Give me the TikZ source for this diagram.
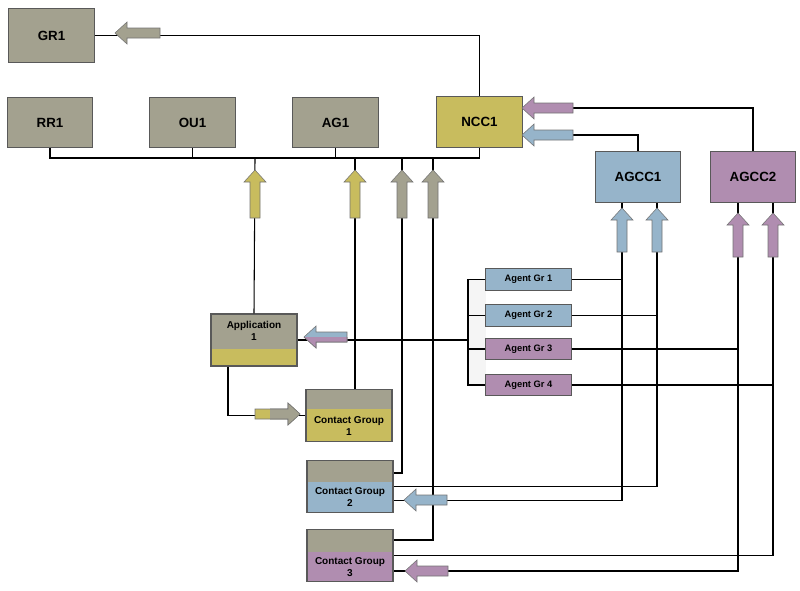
\documentclass[tikz,border=0pt]{standalone}
\usepackage{fontspec}
\setmainfont{Liberation Sans}
\usetikzlibrary{calc}
\definecolor{boxgrey}{HTML}{A3A18F}
\definecolor{khaki}{HTML}{C8BC5E}
\definecolor{agblue}{HTML}{96B4CA}
\definecolor{agpurple}{HTML}{B08DB0}
\tikzset{
  box/.style={draw=black!65,thick,minimum width=64pt,minimum height=38pt,font=\fontsize{10}{12}\selectfont\bfseries},
  agbox/.style={draw=black!65,thick,minimum width=64pt,minimum height=16pt,font=\fontsize{7}{8}\selectfont\bfseries},
  twotone/.style 2 args={draw=black!65,thick,fill=boxgrey,minimum width=64.5pt,minimum height=38.5pt,
    path picture={\fill[#1] (path picture bounding box.south west) rectangle ([yshift=#2]path picture bounding box.south east);}},
  cgtext/.style={align=center,inner sep=0pt,font=\fontsize{7.5}{9}\selectfont\bfseries},
  wire/.style={thick,black},
  pics/fatarrow/.style 2 args={code={
    \filldraw[fill=#1,draw=black!55] (0,0) -- (12,-11) -- (12,-5) -- (#2,-5) -- (#2,5) -- (12,5) -- (12,11) -- cycle;}}
}
\begin{document}
\begin{tikzpicture}[x=0.75pt,y=-0.75pt]
\useasboundingbox (0,0) rectangle (800,590);
% boxes
\node[box,fill=boxgrey,minimum width=65pt,minimum height=41pt] (GR1) at (51.5,35.5) {GR1};
\node[box,fill=boxgrey] (RR1) at (50,122.5) {RR1};
\node[box,fill=boxgrey] (OU1) at (192.5,122.5) {OU1};
\node[box,fill=boxgrey] (AG1) at (335.5,122.5) {AG1};
\node[box,fill=khaki] (NCC1) at (479.5,122) {NCC1};
\node[box,fill=agblue] (AGCC1) at (638,177) {AGCC1};
\node[box,fill=agpurple] (AGCC2) at (753,177) {AGCC2};
\fill[gray!8] (468,279) rectangle (486,385);
\node[agbox,fill=agblue] (Ag1) at (528.5,279.5) {Agent Gr 1};
\node[agbox,fill=agblue] (Ag2) at (528.5,315.5) {Agent Gr 2};
\node[agbox,fill=agpurple] (Ag3) at (528.5,349) {Agent Gr 3};
\node[agbox,fill=agpurple] (Ag4) at (528.5,385) {Agent Gr 4};
\node[twotone={khaki}{12.5pt},minimum height=39pt] (App) at (254,340) {};
\node[cgtext] (Appt) at ($(App.north)+(0,17)$) {Application\\1};
\node[twotone={khaki}{24.5pt}] (CG1) at (349,415.5) {};
\node[cgtext] (CG1t) at ($(CG1.south)+(0,-16)$) {Contact Group\\1};
\node[twotone={agblue}{23pt}] (CG2) at (350,486.5) {};
\node[cgtext] (CG2t) at ($(CG2.south)+(0,-16)$) {Contact Group\\2};
\node[twotone={agpurple}{22pt}] (CG3) at (350,555.5) {};
\node[cgtext] (CG3t) at ($(CG3.south)+(0,-15)$) {Contact Group\\3};
% columns
\coordinate (bus) at (48,158);
\coordinate (c255) at (255,0);
\coordinate (c355) at (355,0);
\coordinate (c402) at (402,0);
\coordinate (c433) at (433,0);
\coordinate (brk) at (468,0);
\coordinate (a1) at (622,0);
\coordinate (a2) at (657,0);
\coordinate (b1) at (738,0);
\coordinate (b2) at (773,0);
% wires
\draw[wire] (NCC1.north) |- (GR1.east);
\draw[wire] (RR1.south) -- (RR1|-bus) -- (NCC1|-bus) -- (NCC1.south);
\draw[wire] (OU1.south) -- (OU1|-bus);
\draw[wire] (AG1.south) -- (AG1|-bus);
\draw[wire] (c255|-bus) -- (App.north);
\draw[wire] (c355|-bus) -- (c355|-CG1.north);
\draw[wire] (c402|-bus) |- ($(CG2.east)+(0,-13.5)$);
\draw[wire] (c433|-bus) |- ($(CG3.east)+(0,-15.5)$);
\draw[wire] ($(NCC1.east)+(0,-14)$) -| (AGCC2.north);
\draw[wire] ($(NCC1.east)+(0,13)$) -| (AGCC1.north);
\draw[wire] (Ag1.west) -- (Ag1.west-|brk) -- (Ag4.west-|brk) -- (Ag4.west);
\draw[wire] (Ag2.west) -- (Ag2.west-|brk);
\draw[wire] (Ag3.west) -- (Ag3.west-|brk);
\draw[wire] (App.east) -- (App.east-|brk);
\draw[wire] ($(App.south)+(-26,0)$) |- (CG1.west);
\draw[wire] (Ag1.east) -- (Ag1.east-|a1);
\draw[wire] (Ag2.east) -- (Ag2.east-|a2);
\draw[wire] (Ag3.east) -- (Ag3.east-|b1);
\draw[wire] (Ag4.east) -- (Ag4.east-|b2);
\draw[wire] (a1|-AGCC1.south) |- ($(CG2.east)+(0,14)$);
\draw[wire] (a2|-AGCC1.south) |- (CG2.east);
\draw[wire] (b1|-AGCC2.south) |- ($(CG3.east)+(0,15.5)$);
\draw[wire] (b2|-AGCC2.south) |- (CG3.east);
% fat arrows
\pic at (115,33) {fatarrow={boxgrey}{45}};
\pic at (522,108) {fatarrow={agpurple}{51}};
\pic at (522,135) {fatarrow={agblue}{51}};
\pic[rotate=-90] at (255,170) {fatarrow={khaki}{48}};
\pic[rotate=-90] at (355,170) {fatarrow={khaki}{48}};
\pic[rotate=-90] at (402,170) {fatarrow={boxgrey}{48}};
\pic[rotate=-90] at (433,170) {fatarrow={boxgrey}{48}};
\pic[rotate=-90] at (622,208) {fatarrow={agblue}{44}};
\pic[rotate=-90] at (657,208) {fatarrow={agblue}{44}};
\pic[rotate=-90] at (738,213) {fatarrow={agpurple}{44}};
\pic[rotate=-90] at (773,213) {fatarrow={agpurple}{44}};
\pic at (404,500) {fatarrow={agblue}{43}};
\pic at (405,571) {fatarrow={agpurple}{43}};
\pic at (304,337) {fatarrow={agblue}{43}};
\begin{scope}
  \clip (300,337) rectangle (350,350);
  \pic at (304,337) {fatarrow={agpurple}{43}};
\end{scope}
\pic[rotate=180] at (300,414) {fatarrow={khaki}{45}};
\begin{scope}
  \clip (270,400) rectangle (302,430);
  \pic[rotate=180] at (300,414) {fatarrow={boxgrey}{45}};
\end{scope}
\end{tikzpicture}
\end{document}
